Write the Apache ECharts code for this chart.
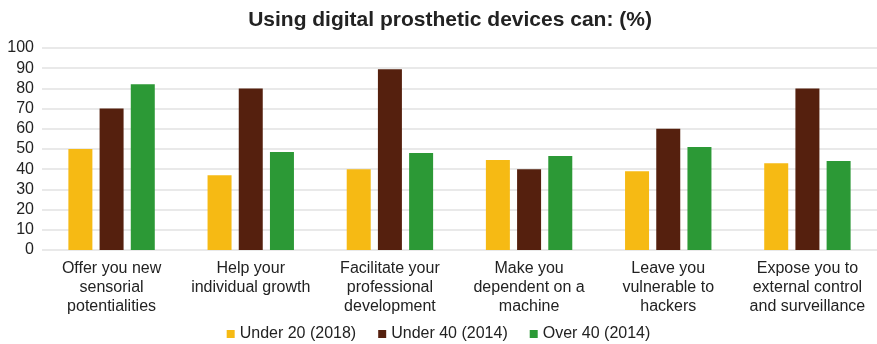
<!DOCTYPE html>
<html><head><meta charset="utf-8">
<script src="https://cdn.jsdelivr.net/npm/echarts@6/dist/echarts.min.js"></script>
<style>html,body{margin:0;padding:0;background:#fff}#c{width:877px;height:344px}</style>
</head><body><div id="c"></div>
<script>
const categories = [
  "Offer you new\nsensorial\npotentialities",
  "Help your\nindividual growth",
  "Facilitate your\nprofessional\ndevelopment",
  "Make you\ndependent on a\nmachine",
  "Leave you\nvulnerable to\nhackers",
  "Expose you to\nexternal control\nand surveillance"
];
const seriesNames = ["Under 20 (2018)", "Under 40 (2014)", "Over 40 (2014)"];
const under20 = [50, 37, 40, 44.5, 39, 43];
const under40 = [70, 80, 89.5, 40, 60, 80];
const over40 = [82, 48.5, 48, 46.5, 51, 44];
const yTicks = [0, 10, 20, 30, 40, 50, 60, 70, 80, 90, 100];
const colors = ["#F6BA14", "#55200E", "#2C9936"];
const font = "Liberation Sans, Arial, sans-serif";

const chart = echarts.init(document.getElementById('c'), null, {renderer: 'canvas'});
const data = [under20, under40, over40];
chart.setOption({
  animation: false,
  title: {
    text: "Using digital prosthetic devices can: (%)",
    left: 445, top: 5, textAlign: 'center',
    textStyle: {fontFamily: font, fontSize: 21, fontWeight: 'bold', color: '#222'}
  },
  legend: {
    top: 321, left: 'center',
    itemWidth: 8, itemHeight: 8, itemGap: 22, icon: 'rect',
    textStyle: {fontFamily: font, fontSize: 16, color: '#222'},
    data: seriesNames
  },
  grid: {left: 42, right: 0, top: 48, bottom: 94},
  xAxis: {
    type: 'category', data: categories,
    axisLine: {show: false}, axisTick: {show: false},
    axisLabel: {fontFamily: font, fontSize: 16, color: '#222', lineHeight: 19, margin: 9, interval: 0}
  },
  yAxis: {
    type: 'value', min: yTicks[0], max: yTicks[yTicks.length - 1], interval: 10,
    axisLine: {show: false}, axisTick: {show: false},
    axisLabel: {fontFamily: font, fontSize: 16, color: '#222', margin: 8, align: 'right'},
    splitLine: {lineStyle: {color: '#e2e2e2', width: 1.5}}
  },
  series: seriesNames.map((n, i) => ({
    name: n, type: 'bar', data: data[i], barWidth: 24, barGap: '30%',
    itemStyle: {color: colors[i]}
  }))
});
</script></body></html>
